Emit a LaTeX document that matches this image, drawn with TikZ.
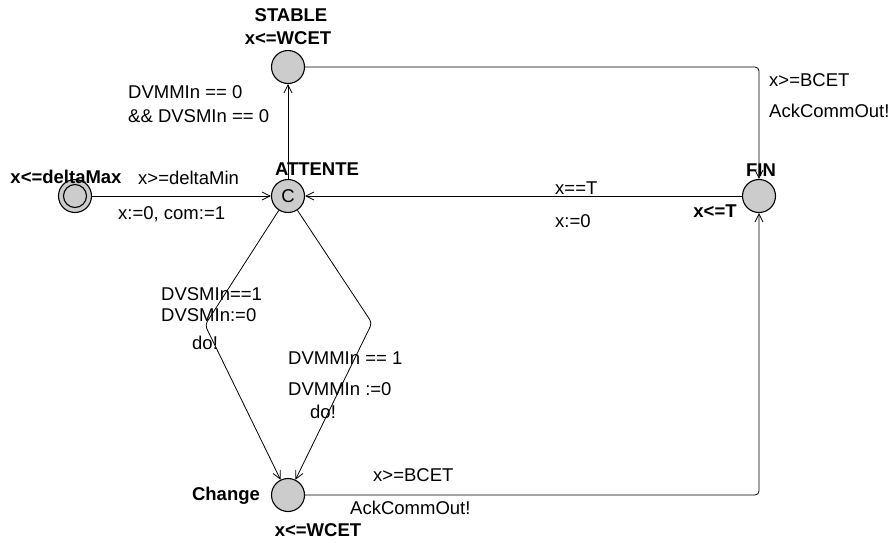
\documentclass[tikz,border=0pt]{standalone}
\usepackage{fontspec}
\setmainfont{Liberation Sans}
\usetikzlibrary{arrows.meta}
\newcommand{\lsize}{\fontsize{18.5}{20}\selectfont}
\tikzset{
  loc/.style={circle, draw, line width=1.1pt, fill=gray!40, minimum size=33pt, inner sep=0pt, font=\lsize},
  trans/.style={-{Straight Barb[length=8pt,width=8pt]}, line width=0.8pt, rounded corners=4pt},
  lname/.style={font=\lsize\bfseries, inner sep=0pt},
  tlbl/.style={font=\lsize, inner sep=0pt, anchor=west},
}

\begin{document}
\begin{tikzpicture}[x=1pt, y=-1pt]
\useasboundingbox (0,0) rectangle (894,542);

% --- locations ---
\node[loc] (init) at (75,196) {};
\node[circle, draw, line width=1.1pt, minimum size=23pt] (initin) at (init) {};
\node[loc] (attente) at (288,196) {C};
\node[loc] (stable) at (288,67) {};
\node[loc] (fin) at (759,196) {};
\node[loc] (change) at (288,495) {};

% noms + invariants
\node[lname] (ninit) at (66,177) {x<=deltaMax};
\node[lname] (natt) at (317,169) {ATTENTE};
\node[lname] (nstable) at (291,15) {STABLE};
\node[lname] (istable) at (288,38) {x<=WCET};
\node[lname] (nfin) at (761,170) {FIN};
\node[lname] (ifin) at (715,211) {x<=T};
\node[lname] (nchange) at (226,496) {Change};
\node[lname] (ichange) at (318,530) {x<=WCET};

% --- transitions ---
\coordinate (bleft) at (205,325);
\coordinate (bright) at (372,323);
\draw[trans] (init) -- (attente);
\draw[trans] (attente) -- (stable);
\draw[trans] (stable) -| (fin);
\draw[trans] (fin) -- (attente);
\draw[trans] (attente) -- (bleft) -- (change);
\draw[trans] (attente) -- (bright) -- (change);
\draw[trans] (change) -| (fin);

% gardes, synchros, affectations
\node[tlbl] (g1) at (138,178) {x>=deltaMin};
\node[tlbl] (a1) at (118,214) {x:=0, com:=1};
\node[tlbl] (g2) at (128,92) {DVMMIn == 0};
\node[tlbl] (g2b) at (128,116) {\&\& DVSMIn == 0};
\node[tlbl] (g3) at (769,80) {x>=BCET};
\node[tlbl] (s3) at (769,111) {AckCommOut!};
\node[tlbl] (g4) at (555,188) {x==T};
\node[tlbl] (a4) at (555,221) {x:=0};
\node[tlbl] (g5) at (161,294) {DVSMIn==1};
\node[tlbl] (a5) at (161,315) {DVSMIn:=0};
\node[tlbl] (s5) at (192,343) {do!};
\node[tlbl] (g6) at (288,358) {DVMMIn == 1};
\node[tlbl] (a6) at (288,389) {DVMMIn :=0};
\node[tlbl] (s6) at (310,412) {do!};
\node[tlbl] (g7) at (373,475) {x>=BCET};
\node[tlbl] (s7) at (350,508) {AckCommOut!};
\end{tikzpicture}
\end{document}
